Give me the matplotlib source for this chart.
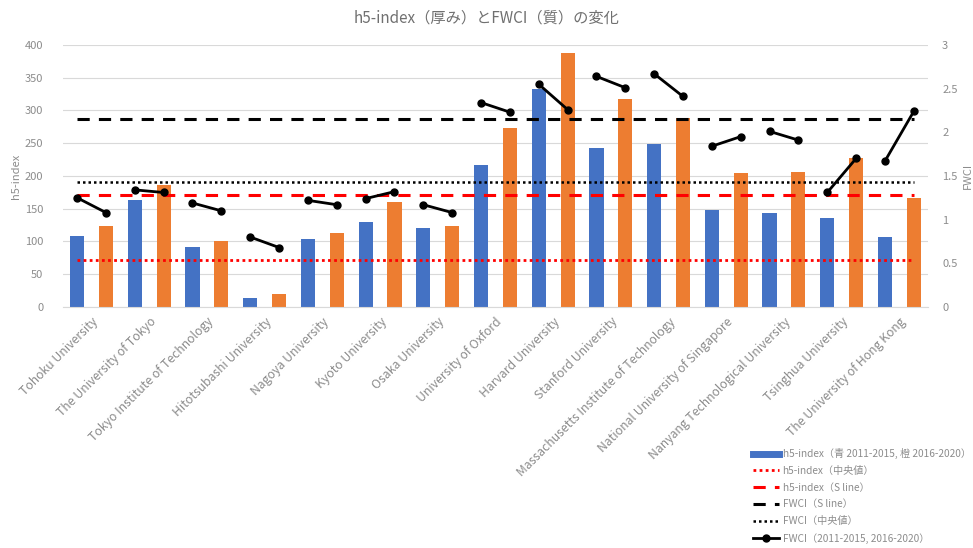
import matplotlib
matplotlib.use("Agg")
import matplotlib.pyplot as plt
from matplotlib.lines import Line2D
import numpy as np

plt.rcParams['font.family'] = ['Noto Sans CJK JP', 'DejaVu Sans']

universities = ["Tohoku University", "The University of Tokyo", "Tokyo Institute of Technology",
                "Hitotsubashi University", "Nagoya University", "Kyoto University", "Osaka University",
                "University of Oxford", "Harvard University", "Stanford University",
                "Massachusetts Institute of Technology", "National University of Singapore",
                "Nanyang Technological University", "Tsinghua University", "The University of Hong Kong"]
h5_2011_2015 = [108, 163, 92, 14, 104, 130, 121, 217, 332, 243, 248, 148, 144, 135, 107]
h5_2016_2020 = [123, 186, 101, 19, 113, 160, 124, 273, 387, 318, 288, 205, 206, 227, 166]
fwci_2011_2015 = [1.25, 1.34, 1.19, 0.80, 1.22, 1.24, 1.17, 2.34, 2.55, 2.64, 2.67, 1.84, 2.01, 1.31, 1.67]
fwci_2016_2020 = [1.08, 1.31, 1.10, 0.68, 1.17, 1.32, 1.08, 2.23, 2.26, 2.51, 2.41, 1.95, 1.91, 1.70, 2.24]
h5_median = 72
h5_sline = 171
fwci_sline = 2.15
fwci_median = 1.43

BLUE = '#4472C4'
ORANGE = '#ED7D31'
GRAY = '#8c8c8c'

fig = plt.figure(figsize=(9.73, 5.48), dpi=100)
ax = fig.add_axes([0.0644, 0.44, 0.8896, 0.478])
ax2 = ax.twinx()

n = len(universities)
xb = np.arange(n) * 2
xo = xb + 1
w = 0.49
ax.bar(xb, h5_2011_2015, width=w, color=BLUE, zorder=2)
ax.bar(xo, h5_2016_2020, width=w, color=ORANGE, zorder=2)

x0, x1 = 0, 2 * n - 1
ax.plot([x0, x1], [h5_median, h5_median], color='#FF0000', lw=2, ls=(0, (1, 1.2)), zorder=3)
ax.plot([x0, x1], [h5_sline, h5_sline], color='#FF0000', lw=2.2, ls=(0, (4, 3)), zorder=3)
ax2.plot([x0, x1], [fwci_sline, fwci_sline], color='black', lw=2.2, ls=(0, (4, 3)), zorder=3)
ax2.plot([x0, x1], [fwci_median, fwci_median], color='black', lw=1.8, ls=(0, (1, 1.2)), zorder=3)
for i in range(n):
    ax2.plot([xb[i], xo[i]], [fwci_2011_2015[i], fwci_2016_2020[i]], color='black', lw=2,
             marker='o', ms=5, zorder=4)

ax.set_xlim(-0.5, 2 * n - 0.5)
ax.set_ylim(0, 400)
ax2.set_ylim(0, 3)
ax.set_yticks(np.arange(0, 401, 50))
ax2.set_yticks(np.arange(0, 3.01, 0.5))
ax2.set_yticklabels(['0', '0.5', '1', '1.5', '2', '2.5', '3'])
ax.grid(axis='y', color='#d9d9d9', lw=0.8, zorder=0)
ax.set_axisbelow(True)

ax.set_xticks(xb + 0.5)
ax.set_xticklabels(universities, rotation=45, ha='right', rotation_mode='anchor',
                   fontsize=8.8, color=GRAY)
ax.tick_params(axis='x', length=0, pad=6)
ax.tick_params(axis='y', length=0, labelsize=8, labelcolor=GRAY, pad=14)
ax2.tick_params(axis='y', length=0, labelsize=8, labelcolor=GRAY, pad=10)

for a in (ax, ax2):
    for s in ['top', 'left', 'right']:
        a.spines[s].set_visible(False)
    a.spines['bottom'].set_color('#d9d9d9')
ax2.spines['bottom'].set_visible(False)

ax.set_ylabel('h5-index', fontsize=8, color=GRAY, labelpad=3)
ax2.set_ylabel('FWCI', fontsize=8, color=GRAY, labelpad=4, rotation=90)

fig.text(0.5, 0.967, 'h5-index（厚み）とFWCI（質）の変化', ha='center', va='center',
         fontsize=11, color='#707070')

handles = [
    Line2D([], [], color=BLUE, lw=5),
    Line2D([], [], color='#FF0000', lw=2, ls=(0, (1, 1.2))),
    Line2D([], [], color='#FF0000', lw=2.2, ls=(0, (4, 3))),
    Line2D([], [], color='black', lw=2.2, ls=(0, (4, 3))),
    Line2D([], [], color='black', lw=1.8, ls=(0, (1, 1.2))),
    Line2D([], [], color='black', lw=2, marker='o', ms=5),
]
labels = ['h5-index（青 2011-2015, 橙 2016-2020）', 'h5-index（中央値）', 'h5-index（S line）',
          'FWCI（S line）', 'FWCI（中央値）', 'FWCI（2011-2015, 2016-2020）']
leg = fig.legend(handles, labels, loc='upper left', bbox_to_anchor=(0.774, 0.182), frameon=False,
                 fontsize=7.3, handlelength=2.6, handletextpad=0.3, labelspacing=0.66,
                 borderaxespad=0, borderpad=0)
for t in leg.get_texts():
    t.set_color(GRAY)

fig.savefig('out.png', dpi=100)
